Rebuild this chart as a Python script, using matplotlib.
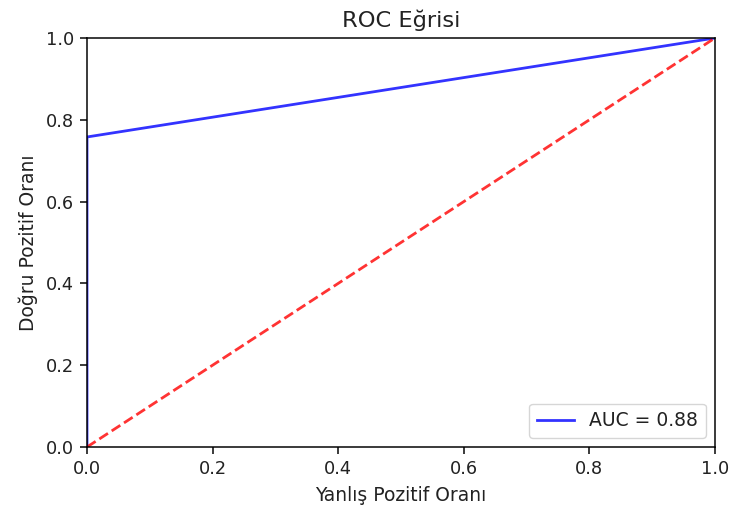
import matplotlib
matplotlib.use("Agg")
import matplotlib.pyplot as plt

fpr = [0.0, 0.0, 1.0]
tpr = [0.0, 0.758, 1.0]
auc_value = 0.88
diag = [0.0, 1.0]

s = 1.35  # everything looks scaled up from matplotlib defaults
plt.rcParams['font.size'] = 13.5
plt.rcParams['xtick.labelsize'] = 12.8
plt.rcParams['ytick.labelsize'] = 12.8
plt.rcParams['xtick.major.size'] = 3.5 * s
plt.rcParams['ytick.major.size'] = 3.5 * s
plt.rcParams['xtick.major.pad'] = 3.5 * s
plt.rcParams['ytick.major.pad'] = 3.5 * s
plt.rcParams['xtick.major.width'] = 0.8 * s
plt.rcParams['ytick.major.width'] = 0.8 * s
plt.rcParams['axes.linewidth'] = 0.8 * s
plt.rcParams['axes.labelpad'] = 4 * s
plt.rcParams['axes.titlepad'] = 6 * s
plt.rcParams['text.color'] = '#222222'
plt.rcParams['axes.labelcolor'] = '#222222'
plt.rcParams['xtick.labelcolor'] = '#222222'
plt.rcParams['ytick.labelcolor'] = '#222222'

fig = plt.figure(figsize=(7.29, 5.11), dpi=100)
ax = fig.add_axes([87/729, 64/511, 628/729, 409/511])

ax.plot(fpr, tpr, color='blue', alpha=0.8, lw=2, label='AUC = %0.2f' % auc_value)
ax.plot(diag, diag, color='red', alpha=0.8, lw=2, linestyle='--')
ax.set_xlim(0, 1)
ax.set_ylim(0, 1)
ax.set_title('ROC Eğrisi')
ax.set_xlabel('Yanlış Pozitif Oranı')
ax.set_ylabel('Doğru Pozitif Oranı')
ax.legend(loc='lower right')

fig.savefig('out.png', dpi=100)
